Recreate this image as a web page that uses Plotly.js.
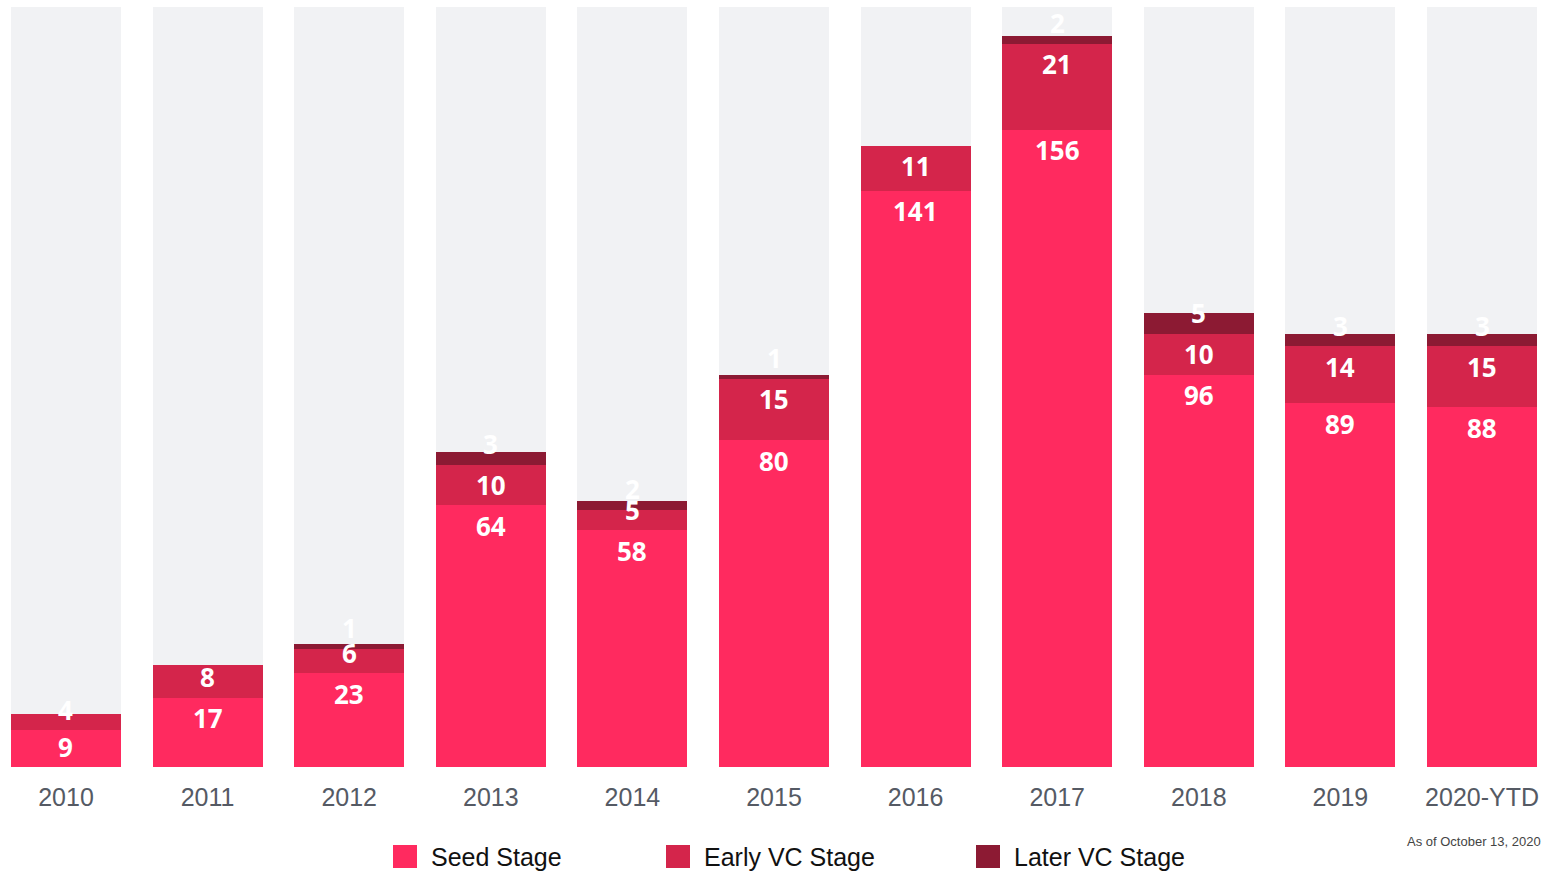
<!DOCTYPE html>
<html>
<head>
<meta charset="utf-8">
<script src="https://cdn.plot.ly/plotly-3.0.1.min.js"></script>
<style>html,body{margin:0;padding:0;background:#fff;}#chart{width:1551px;height:873px;}</style>
</head>
<body>
<div id="chart"></div>
<script>
const years = ['2010','2011','2012','2013','2014','2015','2016','2017','2018','2019','2020-YTD'];
const seedStage = [9,17,23,64,58,80,141,156,96,89,88];
const earlyVC   = [4,8,6,10,5,15,11,21,10,14,15];
const laterVC   = [0,0,1,3,2,1,0,2,5,3,3];
const seriesNames = ['Seed Stage','Early VC Stage','Later VC Stage'];
const noteText = 'As of October 13, 2020';

const colors = ['#ff2a5f','#d4254b','#8c1a33'];
const bgColor = '#f1f2f4';
const W = 1551, H = 873, mT = 7, mB = 106;
const plotH = H - mT - mB;
const totals = years.map((_, i) => seedStage[i] + earlyVC[i] + laterVC[i]);
const yMax = 186;
const pxPerUnit = plotH / yMax;
const remainder = totals.map(t => yMax - t);

const series = [seedStage, earlyVC, laterVC];
const traces = series.map((vals, k) => ({
  type: 'bar', x: years, y: vals, name: seriesNames[k],
  marker: {color: colors[k], line: {width: 0}},
  hoverinfo: 'x+y+name', showlegend: false
}));
traces.push({type: 'bar', x: years, y: remainder, marker: {color: bgColor, line: {width: 0}},
  hoverinfo: 'skip', showlegend: false});

const annotations = [];
years.forEach((yr, i) => {
  let base = 0;
  series.forEach((vals, k) => {
    const v = vals[i];
    if (v > 0) {
      const hPx = v * pxPerUnit;
      annotations.push({
        x: i, y: base, xref: 'x', yref: 'y', text: String(v), showarrow: false,
        yanchor: 'middle', xanchor: 'center', yshift: Math.max(hPx - 20.5, 20.5),
        font: {family: 'Open Sans', size: 26, color: '#ffffff', weight: 700}
      });
    }
    base += v;
  });
});

// legend
const legendX = [393, 666, 976];
const shapes = [];
const toPy = px => (H - mB - px) / plotH;
seriesNames.forEach((nm, k) => {
  shapes.push({type: 'rect', xref: 'paper', yref: 'paper',
    x0: legendX[k] / W, x1: (legendX[k] + 24) / W, y0: toPy(868), y1: toPy(845),
    fillcolor: colors[k], line: {width: 0}});
  annotations.push({xref: 'paper', yref: 'paper', x: (legendX[k] + 36) / W, y: toPy(857),
    xanchor: 'left', yanchor: 'middle', text: nm, showarrow: false,
    font: {family: 'Liberation Sans, Arial', size: 25, color: '#111111'}});
});
annotations.push({xref: 'paper', yref: 'paper', x: 1543 / W, y: toPy(841), xanchor: 'right',
  yanchor: 'middle', text: noteText, showarrow: false,
  font: {family: 'Liberation Sans, Arial', size: 13, color: '#444444'}});

const layout = {
  width: W, height: H, margin: {l: 0, r: 0, t: mT, b: mB, pad: 0},
  paper_bgcolor: '#ffffff', plot_bgcolor: '#ffffff',
  barmode: 'stack', bargap: 0.223,
  showlegend: false,
  xaxis: {type: 'category', range: [-0.466, 10.487], showgrid: false, zeroline: false,
    showline: false, ticks: '', ticklabelstandoff: 13,
    tickfont: {family: 'Liberation Sans, Arial', size: 25, color: '#555a64'}},
  yaxis: {range: [0, yMax], showgrid: false, zeroline: false, showline: false,
    showticklabels: false, ticks: ''},
  annotations: annotations, shapes: shapes
};
Plotly.newPlot('chart', traces, layout, {displayModeBar: false, staticPlot: true});
</script>
</body>
</html>
